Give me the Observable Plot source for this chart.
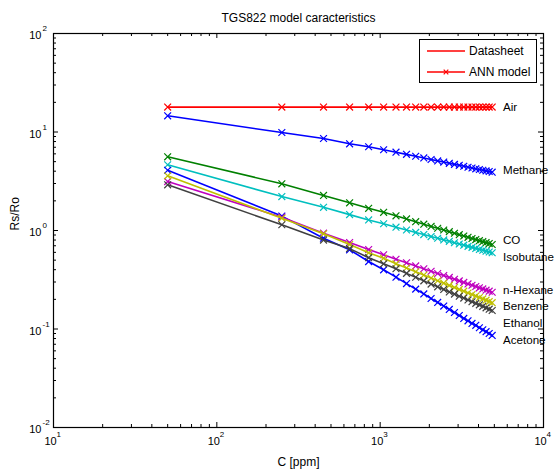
<!DOCTYPE html>
<html><head><meta charset="utf-8">
<script src="https://cdn.jsdelivr.net/npm/d3@7"></script>
<script src="https://cdn.jsdelivr.net/npm/@observablehq/plot@0.6"></script>
<style>
body{margin:0;background:#fff;font-family:"Liberation Sans",Arial,sans-serif;}
#wrap{position:relative;width:554px;height:473px;overflow:hidden;}
#legend{position:absolute;left:419px;top:39px;width:116px;height:42px;border:1px solid #000;background:#fff;}
</style></head><body><div id="wrap"></div>
<script>
const title = "TGS822 model caracteristics";
const xLabel = "C [ppm]";
const yLabel = "Rs/Ro";
const conc = [50,250,450,650,850,1050,1250,1450,1650,1850,2050,2250,2450,2650,2850,3050,3250,3450,3650,3850,4050,4250,4450,4650,4850];
const air = [17.9,17.9,17.9,17.9,17.9,17.9,17.9,17.9,17.9,17.9,17.9,17.9,17.9,17.9,17.9,17.9,17.9,17.9,17.9,17.9,17.9,17.9,17.9,17.9,17.9];
const methane = [14.6,9.88,8.59,7.59,7.08,6.60,6.24,5.93,5.67,5.45,5.26,5.09,4.95,4.81,4.69,4.59,4.49,4.39,4.31,4.23,4.16,4.09,4.03,3.97,3.91];
const co = [5.60,2.98,2.27,1.91,1.68,1.53,1.41,1.31,1.23,1.16,1.10,1.054,1.011,0.973,0.938,0.907,0.879,0.853,0.830,0.809,0.789,0.770,0.753,0.737,0.721];
const isobutane = [4.65,2.21,1.72,1.45,1.28,1.17,1.08,1.012,0.956,0.909,0.868,0.834,0.803,0.776,0.751,0.729,0.709,0.690,0.674,0.658,0.643,0.630,0.617,0.605,0.594];
const acetone = [4.09,1.40,0.835,0.637,0.484,0.399,0.336,0.289,0.254,0.227,0.204,0.186,0.171,0.158,0.147,0.137,0.128,0.121,0.114,0.109,0.103,0.098,0.094,0.090,0.086];
const nHexane = [3.14,1.365,0.939,0.755,0.641,0.567,0.511,0.470,0.437,0.409,0.386,0.366,0.349,0.334,0.320,0.308,0.297,0.287,0.278,0.270,0.262,0.255,0.248,0.242,0.236];
const benzene = [3.59,1.333,0.926,0.721,0.594,0.523,0.459,0.416,0.381,0.353,0.329,0.309,0.292,0.277,0.264,0.252,0.242,0.232,0.224,0.216,0.209,0.202,0.196,0.190,0.185];
const ethanol = [2.91,1.143,0.800,0.655,0.530,0.459,0.409,0.367,0.335,0.308,0.286,0.268,0.252,0.238,0.226,0.215,0.206,0.197,0.189,0.182,0.176,0.170,0.164,0.159,0.154];
const gasNames = ["Air","Methane","CO","Isobutane","Acetone","n-Hexane","Benzene","Ethanol"];
const gasColors = ["#ff0000","#0000ff","#008000","#00bfbf","#0000ff","#bf00bf","#bfbf00","#404040"];
const labelNames = ["Air","Methane","CO","Isobutane","n-Hexane","Benzene","Ethanol","Acetone"];
const labelValues = [17.9,4.06,0.79,0.532,0.246,0.169,0.114,0.0764];
const labelConc = 5650;
const xMajor = [10,100,1000,10000];
const yMajor = [0.01,0.1,1,10,100];
const xMinor = [20,30,40,50,60,70,80,90,200,300,400,500,600,700,800,900,2000,3000,4000,5000,6000,7000,8000,9000];
const yMinor = [0.02,0.03,0.04,0.05,0.06,0.07,0.08,0.09,0.2,0.3,0.4,0.5,0.6,0.7,0.8,0.9,2,3,4,5,6,7,8,9,20,30,40,50,60,70,80,90];
const legendItems = ["Datasheet","ANN model"];

const seriesValues = [air,methane,co,isobutane,acetone,nHexane,benzene,ethanol];
const W = 554, H = 473, mL = 53, mR = 11, mT = 33, mB = 46;
const pw = W - mL - mR, ph = H - mT - mB;

const marks = [];
seriesValues.forEach((vals, k) => {
  const pts = vals.map((v, i) => ({c: conc[i], v}));
  marks.push(Plot.line(pts, {x: "c", y: "v", stroke: gasColors[k], strokeWidth: 1.6}));
  marks.push(Plot.dot(pts, {x: "c", y: "v", symbol: "times", r: 3.2, stroke: gasColors[k], strokeWidth: 1.2}));
});
const labelData = labelNames.map((n, i) => ({n, v: labelValues[i]}));
marks.push(Plot.text(labelData, {x: () => labelConc, y: "v", text: "n", textAnchor: "start", fontSize: 11.6, fill: "#000"}));
// ticks (inward, all four sides)
marks.push(Plot.tickX(xMajor, {x: d => d, insetTop: ph - 5, stroke: "#000"}));
marks.push(Plot.tickX(xMajor, {x: d => d, insetBottom: ph - 5, stroke: "#000"}));
marks.push(Plot.tickX(xMinor, {x: d => d, insetTop: ph - 3, stroke: "#000"}));
marks.push(Plot.tickX(xMinor, {x: d => d, insetBottom: ph - 3, stroke: "#000"}));
marks.push(Plot.tickY(yMajor, {y: d => d, insetRight: pw - 5, stroke: "#000"}));
marks.push(Plot.tickY(yMajor, {y: d => d, insetLeft: pw - 5, stroke: "#000"}));
marks.push(Plot.tickY(yMinor, {y: d => d, insetRight: pw - 3, stroke: "#000"}));
marks.push(Plot.tickY(yMinor, {y: d => d, insetLeft: pw - 3, stroke: "#000"}));
marks.push(Plot.frame({stroke: "#000", strokeWidth: 1.2}));
// tick labels
marks.push(Plot.text(xMajor, {x: d => d, text: () => "10", frameAnchor: "bottom", dy: 17, dx: -3, fontSize: 11, fill: "#000"}));
marks.push(Plot.text(xMajor, {x: d => d, text: d => String(Math.round(Math.log10(d))), frameAnchor: "bottom", dy: 9, dx: 3, textAnchor: "start", fontSize: 8, fill: "#000"}));
marks.push(Plot.text(yMajor, {y: d => d, text: () => "10", frameAnchor: "left", dx: -12, dy: 2, textAnchor: "end", fontSize: 11, fill: "#000"}));
marks.push(Plot.text(yMajor, {y: d => d, text: d => String(Math.round(Math.log10(d))), frameAnchor: "left", dx: -11, dy: -5, textAnchor: "start", fontSize: 8, fill: "#000"}));
// titles
marks.push(Plot.text([title], {frameAnchor: "top", dy: -20, fontSize: 12, fill: "#000"}));
marks.push(Plot.text([xLabel], {frameAnchor: "bottom", dy: 38, fontSize: 12, fill: "#000"}));
marks.push(Plot.text([yLabel], {frameAnchor: "left", dx: -38, rotate: -90, fontSize: 12, fill: "#000"}));

const chart = Plot.plot({
  width: W, height: H, marginLeft: mL, marginRight: mR, marginTop: mT, marginBottom: mB,
  x: {type: "log", domain: [10, 10000], axis: null},
  y: {type: "log", domain: [0.01, 100], axis: null},
  style: {fontFamily: "'Liberation Sans', Arial, sans-serif", background: "#fff", overflow: "visible"},
  marks
});
const wrap = document.getElementById("wrap");
wrap.appendChild(chart);

// legend overlay
const lg = document.createElement("div");
lg.id = "legend";
const ns = "http://www.w3.org/2000/svg";
const ls = document.createElementNS(ns, "svg");
ls.setAttribute("width", 116); ls.setAttribute("height", 42);
ls.style.fontFamily = "'Liberation Sans', Arial, sans-serif";
legendItems.forEach((t, i) => {
  const y = 11 + i * 21;
  const ln = document.createElementNS(ns, "line");
  ln.setAttribute("x1", 7); ln.setAttribute("x2", 45); ln.setAttribute("y1", y); ln.setAttribute("y2", y);
  ln.setAttribute("stroke", "#ff0000"); ln.setAttribute("stroke-width", 1.6);
  ls.appendChild(ln);
  if (i === 1) {
    const m = document.createElementNS(ns, "path");
    m.setAttribute("d", `M${26-2.3},${y-2.3}L${26+2.3},${y+2.3}M${26-2.3},${y+2.3}L${26+2.3},${y-2.3}`);
    m.setAttribute("stroke", "#ff0000"); m.setAttribute("stroke-width", 1.2);
    ls.appendChild(m);
  }
  const tx = document.createElementNS(ns, "text");
  tx.setAttribute("x", 49); tx.setAttribute("y", y + 4.3);
  tx.setAttribute("font-size", 12); tx.textContent = t;
  ls.appendChild(tx);
});
lg.appendChild(ls);
wrap.appendChild(lg);
</script></body></html>
